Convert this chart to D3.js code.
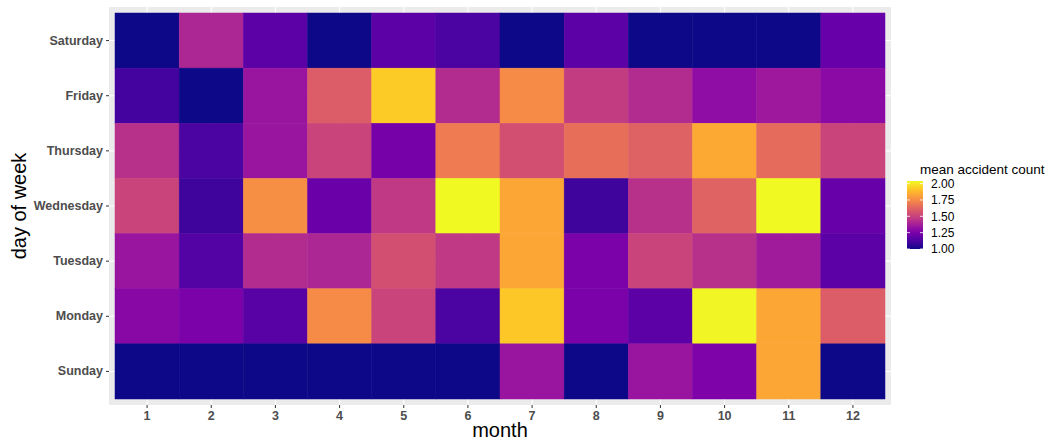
<!DOCTYPE html>
<html>
<head>
<meta charset="utf-8">
<script src="https://cdn.jsdelivr.net/npm/d3@7"></script>
<style>
  body { margin: 0; background: #fff; }
  text { font-family: "Liberation Sans", Arial, sans-serif; }
</style>
</head>
<body>
<div id="chart"></div>
<script>
const width = 1051, height = 441;

const months = ["1","2","3","4","5","6","7","8","9","10","11","12"];
// top to bottom as drawn
const days = ["Saturday","Friday","Thursday","Wednesday","Tuesday","Monday","Sunday"];

// mean accident count, one array per day, months 1..12
const saturday  = [1.00,1.40,1.17,1.00,1.17,1.13,1.00,1.17,1.00,1.00,1.00,1.20];
const friday    = [1.11,1.00,1.34,1.60,1.93,1.42,1.75,1.48,1.42,1.31,1.35,1.30];
const thursday  = [1.44,1.13,1.34,1.51,1.24,1.70,1.55,1.66,1.61,1.84,1.65,1.51];
const wednesday = [1.51,1.10,1.76,1.21,1.47,2.04,1.83,1.10,1.44,1.62,2.04,1.20];
const tuesday   = [1.34,1.15,1.42,1.40,1.55,1.47,1.83,1.25,1.51,1.44,1.36,1.17];
const monday    = [1.29,1.25,1.16,1.75,1.51,1.13,1.92,1.25,1.17,2.03,1.83,1.60];
const sunday    = [1.00,1.00,1.00,1.00,1.00,1.00,1.34,1.00,1.34,1.26,1.83,1.00];

const legendTicks = [1.00, 1.25, 1.50, 1.75, 2.00];

const rows = [saturday, friday, thursday, wednesday, tuesday, monday, sunday];
var data = [];
rows.forEach(function(vals, i) {
  vals.forEach(function(v, j) {
    data.push({ day: days[i], month: months[j], value: v });
  });
});

const margin = { top: 13, right: 166, bottom: 42, left: 115 };
const pad = 6;

var svg = d3.select("#chart").append("svg")
  .attr("width", width)
  .attr("height", height);

var x = d3.scaleBand()
  .domain(months)
  .range([margin.left, width - margin.right]);

var y = d3.scaleBand()
  .domain(days)
  .range([margin.top, height - margin.bottom]);

var vmin = d3.min(data, d => d.value), vmax = d3.max(data, d => d.value);
var color = d3.scaleSequential(d3.interpolatePlasma).domain([vmin, vmax]);

// panel
svg.append("rect")
  .attr("x", margin.left - pad)
  .attr("y", margin.top - pad)
  .attr("width", width - margin.right - margin.left + 2 * pad)
  .attr("height", height - margin.bottom - margin.top + 2 * pad)
  .attr("fill", "#ebebeb");

// grid lines (only visible in the padding)
svg.append("g").selectAll("line.vx")
  .data(months).join("line")
  .attr("x1", d => x(d) + x.bandwidth() / 2)
  .attr("x2", d => x(d) + x.bandwidth() / 2)
  .attr("y1", margin.top - pad)
  .attr("y2", height - margin.bottom + pad)
  .attr("stroke", "#fff").attr("stroke-width", 1.1);
svg.append("g").selectAll("line.hy")
  .data(days).join("line")
  .attr("y1", d => y(d) + y.bandwidth() / 2)
  .attr("y2", d => y(d) + y.bandwidth() / 2)
  .attr("x1", margin.left - pad)
  .attr("x2", width - margin.right + pad)
  .attr("stroke", "#fff").attr("stroke-width", 1.1);

// tiles
svg.append("g").selectAll("rect")
  .data(data).join("rect")
  .attr("x", d => x(d.month))
  .attr("y", d => y(d.day))
  .attr("width", x.bandwidth())
  .attr("height", y.bandwidth())
  .attr("fill", d => color(d.value))
  .attr("stroke", d => color(d.value))
  .attr("stroke-width", 0.5);

// axes
var xAxis = svg.append("g")
  .attr("transform", "translate(0," + (height - margin.bottom + pad) + ")")
  .call(d3.axisBottom(x).tickSize(3).tickPadding(3));
var yAxis = svg.append("g")
  .attr("transform", "translate(" + (margin.left - pad) + ",0)")
  .call(d3.axisLeft(y).tickSize(3).tickPadding(3));

[xAxis, yAxis].forEach(function(a) {
  a.select(".domain").remove();
  a.selectAll(".tick line").attr("stroke", "#333");
  a.selectAll(".tick text")
    .attr("fill", "#4d4d4d")
    .style("font-size", "12.5px")
    .style("font-weight", "bold");
});

// axis titles
svg.append("text")
  .attr("x", (margin.left + width - margin.right) / 2)
  .attr("y", 437)
  .attr("text-anchor", "middle")
  .style("font-size", "20px")
  .text("month");

svg.append("text")
  .attr("transform", "translate(26," + ((margin.top + height - margin.bottom) / 2) + ") rotate(-90)")
  .attr("text-anchor", "middle")
  .style("font-size", "20px")
  .text("day of week");

// legend
var legX = 907, legTop = 181, legH = 68, legW = 16;
var ly = d3.scaleLinear().domain([vmin, vmax]).range([legTop + legH, legTop]);

svg.append("text")
  .attr("x", 920)
  .attr("y", 174)
  .style("font-size", "13.5px")
  .text("mean accident count");

var defs = svg.append("defs");
var grad = defs.append("linearGradient")
  .attr("id", "legGrad")
  .attr("x1", 0).attr("y1", 1).attr("x2", 0).attr("y2", 0);
d3.range(0, 1.0001, 0.05).forEach(function(t) {
  grad.append("stop")
    .attr("offset", t)
    .attr("stop-color", d3.interpolatePlasma(t));
});
svg.append("rect")
  .attr("x", legX).attr("y", legTop)
  .attr("width", legW).attr("height", legH)
  .attr("fill", "url(#legGrad)");

var lt = svg.append("g").selectAll("g")
  .data(legendTicks).join("g");
lt.append("line")
  .attr("x1", legX).attr("x2", legX + 3)
  .attr("y1", d => ly(d)).attr("y2", d => ly(d))
  .attr("stroke", "#fff").attr("stroke-width", 0.8);
lt.append("line")
  .attr("x1", legX + legW - 3).attr("x2", legX + legW)
  .attr("y1", d => ly(d)).attr("y2", d => ly(d))
  .attr("stroke", "#fff").attr("stroke-width", 0.8);
lt.append("text")
  .attr("x", 931)
  .attr("y", d => ly(d))
  .attr("dy", "0.35em")
  .attr("fill", "#000")
  .style("font-size", "12px")
  .text(d => d3.format(".2f")(d));
</script>
</body>
</html>
